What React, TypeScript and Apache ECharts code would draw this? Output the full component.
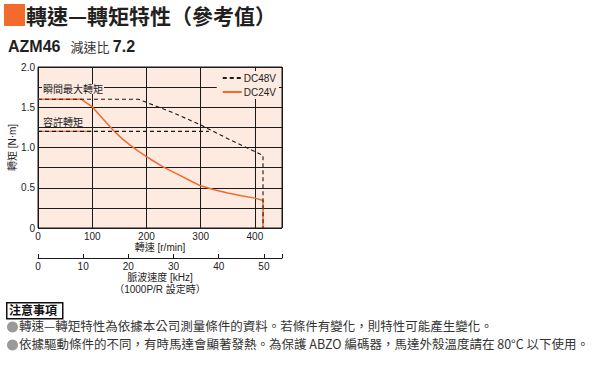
import React, { useEffect, useRef } from "react";
import * as echarts from "echarts";

const speedTicks = [0, 100, 200, 300, 400];
const pulseTicks = [0, 10, 20, 30, 40, 50];
const dc48v: [number, number][] = [
  [0, 1.6], [185, 1.6], [250, 1.43], [300, 1.28], [350, 1.11], [415, 0.9], [415, 0],
];
const dc24v: [number, number][] = [
  [0, 1.6], [80, 1.6], [85, 1.575], [90, 1.55], [95, 1.53], [100, 1.505], [110, 1.43],
  [120, 1.355], [130, 1.28], [140, 1.205], [155, 1.11], [170, 1.03], [185, 0.955],
  [200, 0.887], [215, 0.823], [230, 0.763], [245, 0.71], [260, 0.66], [280, 0.59],
  [300, 0.524], [325, 0.475], [350, 0.435], [375, 0.4], [400, 0.371], [415, 0.342], [415, 0],
];
const permissible48: [number, number][] = [[0, 1.2], [315, 1.2]];
const permissible24: [number, number][] = [[0, 1.2], [99, 1.2]];
const noteLines = [
  "轉速—轉矩特性為依據本公司測量條件的資料。若條件有變化，則特性可能產生變化。",
  "依據驅動條件的不同，有時馬達會顯著發熱。為保護 ABZO 編碼器，馬達外殼溫度請在 80°C 以下使用。",
];

const ORANGE = "#F26A2C";
const PEACH = "#FDEBE1";
const CJK = '"Noto Sans CJK TC", "Noto Sans", sans-serif';
const MIX = '"Liberation Sans", "Noto Sans CJK TC", sans-serif';
const NUM = '"Liberation Sans Narrow", "Liberation Sans", Arial, sans-serif';

export default function App() {
  const ref = useRef<HTMLDivElement>(null);
  useEffect(() => {
    if (!ref.current) return;
    const chart = echarts.init(ref.current, null, { renderer: "svg" });
    chart.setOption({
      animation: false,
      backgroundColor: "#fff",
      grid: {
        left: 38, top: 67, width: 244, height: 161,
        show: true, backgroundColor: PEACH, borderColor: "#1a1a1a", borderWidth: 1,
      },
      legend: {
        data: ["DC48V", "DC24V"],
        orient: "vertical",
        right: 321, top: 71,
        itemWidth: 19, itemHeight: 8, itemGap: 4,
        backgroundColor: PEACH,
        padding: [2, 3, 2, 5],
        itemStyle: { opacity: 0 },
        textStyle: { fontFamily: NUM, fontSize: 10, color: "#222", padding: [0, 0, 0, -3] },
      },
      xAxis: [
        {
          type: "value", min: 0, max: 450, interval: 100,
          axisLine: { show: false }, axisTick: { show: false },
          splitLine: { show: true, lineStyle: { color: "#1a1a1a", width: 1 } },
          axisLabel: {
            fontFamily: NUM, fontSize: 10, color: "#222", margin: 3,
            formatter: (v: number) => (speedTicks.includes(v) ? String(v) : ""),
          },
          name: "轉速 [r/min]", nameLocation: "middle", nameGap: 14,
          nameTextStyle: { fontFamily: MIX, fontSize: 10, color: "#222" },
        },
        {
          type: "value", min: 0, max: 54, interval: 10, position: "bottom", offset: 30,
          axisLine: { show: true, onZero: false, lineStyle: { color: "#1a1a1a", width: 1 } },
          axisTick: { show: true, inside: true, length: 4, lineStyle: { color: "#1a1a1a" } },
          splitLine: { show: false },
          axisLabel: {
            fontFamily: NUM, fontSize: 10, color: "#222", margin: 3,
            formatter: (v: number) => (pulseTicks.includes(v) ? String(v) : ""),
          },
          name: "脈波速度 [kHz]", nameLocation: "middle", nameGap: 14,
          nameTextStyle: { fontFamily: MIX, fontSize: 10, color: "#222" },
        },
      ],
      yAxis: {
        type: "value", min: 0, max: 2, interval: 0.25,
        axisLine: { show: false }, axisTick: { show: false },
        splitLine: { show: true, lineStyle: { color: "#1a1a1a", width: 1 } },
        axisLabel: {
          fontFamily: NUM, fontSize: 10, color: "#222", margin: 3,
          formatter: (v: number) =>
            Math.abs(v * 2 - Math.round(v * 2)) < 1e-6 ? (v === 0 ? "0" : v.toFixed(1)) : "",
        },
        name: "轉矩 [N·m]", nameLocation: "middle", nameGap: 19, nameRotate: 90,
        nameTextStyle: { fontFamily: MIX, fontSize: 10, color: "#222" },
      },
      series: [
        {
          name: "perm24", type: "line", data: permissible24, symbol: "none", z: 2,
          lineStyle: { color: ORANGE, width: 1.3 }, silent: true,
        },
        {
          name: "DC24V", type: "line", data: dc24v, symbol: "none", z: 3,
          lineStyle: { color: ORANGE, width: 1.5 }, itemStyle: { color: ORANGE },
        },
        {
          name: "perm48", type: "line", data: permissible48, symbol: "none", z: 4,
          lineStyle: { color: "#1a1a1a", width: 1.1, type: [4, 3] }, silent: true,
        },
        {
          name: "DC48V", type: "line", data: dc48v, symbol: "none", z: 4,
          lineStyle: { color: "#1a1a1a", width: 1.1, type: [4, 3] }, itemStyle: { color: "#1a1a1a" },
        },
      ],
      graphic: [
        { type: "rect", left: 4, top: 4, shape: { width: 21, height: 22 }, style: { fill: ORANGE } },
        {
          type: "text", left: 26, top: 4,
          style: { text: "轉速—轉矩特性（參考值）", font: `bold 21px ${CJK}`, fill: "#231f20" },
        },
        {
          type: "text", left: 8, top: 38,
          style: {
            text: "{b|AZM46}   {n|減速比} {b|7.2}",
            rich: {
              b: { font: `bold 16px "Liberation Sans", Arial, sans-serif`, fill: "#231f20" },
              n: { font: `13px ${CJK}`, fill: "#333" },
            },
          },
        },
        {
          type: "text", x: 160, y: 289,
          style: {
            text: "（1000P/R 設定時）", font: `10px ${MIX}`, fill: "#222",
            align: "center", verticalAlign: "middle",
          },
        },
        {
          type: "text", left: 42, top: 84, z: 10,
          style: {
            text: "瞬間最大轉矩", font: `10px ${MIX}`, fill: "#222",
            backgroundColor: PEACH, padding: [0, 1],
          },
        },
        {
          type: "text", left: 42, top: 117, z: 10,
          style: {
            text: "容許轉矩", font: `10px ${MIX}`, fill: "#222",
            backgroundColor: PEACH, padding: [0, 1],
          },
        },
        {
          type: "rect", left: 6, top: 302, shape: { width: 56, height: 16 },
          style: { fill: "#fff", stroke: "#111", lineWidth: 1.5 },
        },
        {
          type: "text", left: 9, top: 303,
          style: { text: "注意事項", font: `bold 12px ${CJK}`, fill: "#111" },
        },
        { type: "circle", shape: { cx: 12.5, cy: 327, r: 5.5 }, style: { fill: "#9a9a9a" } },
        { type: "circle", shape: { cx: 12.5, cy: 345, r: 5.5 }, style: { fill: "#9a9a9a" } },
        {
          type: "text", left: 19, top: 319,
          style: { text: noteLines[0], font: `12.5px ${CJK}`, fill: "#333" },
        },
        {
          type: "text", left: 19, top: 337,
          style: { text: noteLines[1], font: `12.5px ${CJK}`, fill: "#333" },
        },
      ],
    });
    return () => chart.dispose();
  }, []);
  return (
    <div
      ref={ref}
      style={{ position: "fixed", left: 0, top: 0, width: 600, height: 380, background: "#fff" }}
    />
  );
}
